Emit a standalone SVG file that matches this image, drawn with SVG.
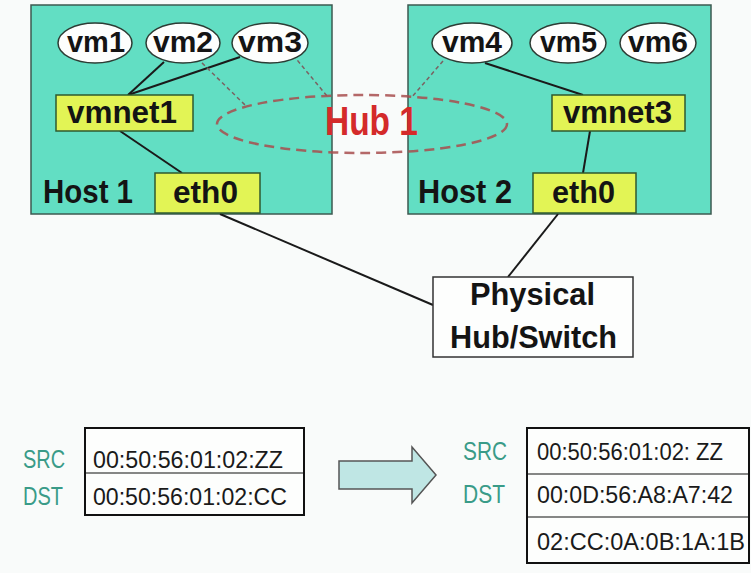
<svg xmlns="http://www.w3.org/2000/svg" width="751" height="573" viewBox="0 0 751 573">
<style>
.host{fill:#62dec3;stroke:#3d5a50;stroke-width:1.5}
.vm{fill:#fdfefd;stroke:#2c3c34;stroke-width:1.5}
.net{fill:#e2f455;stroke:#2f5a2f;stroke-width:1.5}
.b{font-family:"Liberation Sans",Arial,sans-serif;font-weight:bold;fill:#141414}
.r{font-family:"Liberation Sans",Arial,sans-serif;fill:#1a1a1a;font-size:24px}
.lab{font-family:"Liberation Sans",Arial,sans-serif;fill:#3a9b88;font-size:25px}
.wire{stroke:#1a1a1a;stroke-width:2;fill:none}
.dash{stroke:#7a6262;stroke-width:1.5;stroke-dasharray:4 3;fill:none}
.tbl{fill:#fdfefd;stroke:#111;stroke-width:2}
</style>
<rect x="0" y="0" width="751" height="573" fill="#f9fbfa"/>
<g id="host1">
<rect class="host" x="31" y="5" width="301" height="209"/>
<text class="b" x="43" y="203" font-size="34" textLength="90" lengthAdjust="spacingAndGlyphs">Host 1</text>
</g>
<g id="host2">
<rect class="host" x="408" y="5" width="303" height="209"/>
<text class="b" x="418" y="203" font-size="34" textLength="94" lengthAdjust="spacingAndGlyphs">Host 2</text>
</g>
<g id="connectors">
<line class="wire" x1="164" y1="62" x2="128" y2="95"/>
<line class="wire" x1="240" y1="57" x2="128" y2="95"/>
<line class="wire" x1="120" y1="131" x2="182" y2="173"/>
<line class="wire" x1="485" y1="63" x2="583" y2="95"/>
<line class="wire" x1="590" y1="131" x2="583" y2="173"/>
<line class="wire" x1="220" y1="214" x2="433" y2="305"/>
<line class="wire" x1="558" y1="214" x2="508" y2="277"/>
<line class="dash" x1="197" y1="58" x2="245" y2="105"/>
<line class="dash" x1="293" y1="55" x2="327" y2="96"/>
<line class="dash" x1="443" y1="61" x2="412" y2="97"/>
</g>
<g id="hub1">
<ellipse cx="362" cy="124" rx="145" ry="29" fill="none" stroke="#a84e4e" stroke-width="2.5" stroke-dasharray="10 6" opacity="0.85"/>
<text x="325" y="135" font-family="'Liberation Sans',Arial,sans-serif" font-weight="bold" font-size="40" fill="#d42a2a" textLength="93" lengthAdjust="spacingAndGlyphs">Hub 1</text>
</g>
<g id="vm1"><ellipse class="vm" cx="95" cy="43" rx="37" ry="20"/><text class="b" x="67" y="52" font-size="30" textLength="58" lengthAdjust="spacingAndGlyphs">vm1</text></g>
<g id="vm2"><ellipse class="vm" cx="183" cy="43" rx="37" ry="20"/><text class="b" x="153" y="52" font-size="30" textLength="60" lengthAdjust="spacingAndGlyphs">vm2</text></g>
<g id="vm3"><ellipse class="vm" cx="270" cy="43" rx="38" ry="20"/><text class="b" x="238" y="52" font-size="30" textLength="64" lengthAdjust="spacingAndGlyphs">vm3</text></g>
<g id="vm4"><ellipse class="vm" cx="472" cy="43" rx="40" ry="20"/><text class="b" x="442" y="52" font-size="30" textLength="60" lengthAdjust="spacingAndGlyphs">vm4</text></g>
<g id="vm5"><ellipse class="vm" cx="568" cy="43" rx="38" ry="20"/><text class="b" x="540" y="52" font-size="30" textLength="57" lengthAdjust="spacingAndGlyphs">vm5</text></g>
<g id="vm6"><ellipse class="vm" cx="658" cy="43" rx="38" ry="20"/><text class="b" x="628" y="52" font-size="30" textLength="60" lengthAdjust="spacingAndGlyphs">vm6</text></g>
<g id="vmnet1"><rect class="net" x="56" y="95" width="137" height="36"/><text class="b" x="67" y="123" font-size="31" textLength="110" lengthAdjust="spacingAndGlyphs">vmnet1</text></g>
<g id="vmnet3"><rect class="net" x="552" y="95" width="133" height="36"/><text class="b" x="563" y="123" font-size="31" textLength="109" lengthAdjust="spacingAndGlyphs">vmnet3</text></g>
<g id="eth0-host1"><rect class="net" x="155" y="173" width="105" height="40"/><text class="b" x="173" y="203" font-size="32" textLength="65" lengthAdjust="spacingAndGlyphs">eth0</text></g>
<g id="eth0-host2"><rect class="net" x="533" y="173" width="103" height="40"/><text class="b" x="552" y="203" font-size="32" textLength="63" lengthAdjust="spacingAndGlyphs">eth0</text></g>
<g id="physical">
<rect x="433" y="277" width="200" height="80" fill="#fdfefd" stroke="#333" stroke-width="1.5"/>
<text class="b" x="470" y="305" font-size="32" textLength="125" lengthAdjust="spacingAndGlyphs">Physical</text>
<text class="b" x="450" y="348" font-size="32" textLength="167" lengthAdjust="spacingAndGlyphs">Hub/Switch</text>
</g>
<g id="frame-before">
<text class="lab" x="23" y="468" textLength="42" lengthAdjust="spacingAndGlyphs">SRC</text>
<text class="lab" x="23" y="505" textLength="40" lengthAdjust="spacingAndGlyphs">DST</text>
<rect class="tbl" x="85" y="428" width="219" height="87"/>
<line x1="85" y1="473" x2="304" y2="473" stroke="#111" stroke-width="1.2"/>
<text class="r" x="93" y="468" textLength="190" lengthAdjust="spacingAndGlyphs">00:50:56:01:02:ZZ</text>
<text class="r" x="93" y="505" textLength="194" lengthAdjust="spacingAndGlyphs">00:50:56:01:02:CC</text>
</g>
<g id="arrow">
<polygon points="339,461 412,461 412,447 436,475 412,503 412,489 339,489" fill="#bfe6e4" stroke="#555" stroke-width="1.5"/>
</g>
<g id="frame-after">
<text class="lab" x="463" y="460" textLength="44" lengthAdjust="spacingAndGlyphs">SRC</text>
<text class="lab" x="463" y="503" textLength="42" lengthAdjust="spacingAndGlyphs">DST</text>
<rect class="tbl" x="527" y="428" width="222" height="135"/>
<line x1="527" y1="474" x2="749" y2="474" stroke="#111" stroke-width="1.2"/>
<line x1="527" y1="517" x2="749" y2="517" stroke="#111" stroke-width="1.2"/>
<text class="r" x="537" y="460" textLength="186" lengthAdjust="spacingAndGlyphs">00:50:56:01:02: ZZ</text>
<text class="r" x="537" y="503" textLength="196" lengthAdjust="spacingAndGlyphs">00:0D:56:A8:A7:42</text>
<text class="r" x="537" y="550" textLength="208" lengthAdjust="spacingAndGlyphs">02:CC:0A:0B:1A:1B</text>
</g>
</svg>
